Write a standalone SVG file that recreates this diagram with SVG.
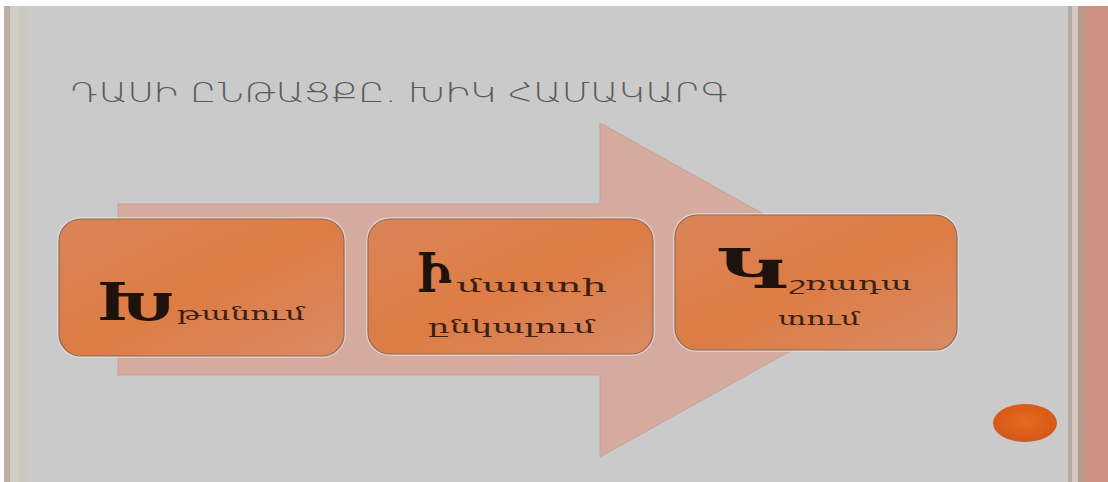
<svg xmlns="http://www.w3.org/2000/svg" width="1108" height="482" viewBox="0 0 1108 482">
<style>
.title{font-family:"DejaVu Sans",sans-serif;font-size:27px;fill:#5a5a5a;font-weight:300}
.big{font-family:"DejaVu Serif",serif;font-weight:bold;fill:#1e120c}
.small{font-family:"DejaVu Serif",serif;font-size:19px;fill:#3a2016}
.box{fill:url(#boxg);stroke:#8a6a5c;stroke-width:1.2}
.halo{fill:none;stroke:#f2e2dc;stroke-width:4;opacity:0.6}
</style>
<defs>
<linearGradient id="boxg" x1="0" y1="0" x2="1" y2="1">
<stop offset="0" stop-color="#da8458"/>
<stop offset="0.5" stop-color="#dd7c44"/>
<stop offset="1" stop-color="#d98a64"/>
</linearGradient>
<radialGradient id="dot" cx="0.5" cy="0.45" r="0.55">
<stop offset="0" stop-color="#e86a1e"/>
<stop offset="0.8" stop-color="#d85c18"/>
<stop offset="1" stop-color="#c85a2a"/>
</radialGradient>
</defs>
<rect x="0" y="0" width="1108" height="482" fill="#cacaca"/>
<rect x="0" y="0" width="1108" height="6" fill="#ffffff"/>
<rect x="0" y="0" width="4" height="482" fill="#ffffff"/>
<rect x="4" y="6" width="6" height="476" fill="#b9b1a8"/>
<rect x="10" y="6" width="8" height="476" fill="#d2cec6"/>
<rect x="18" y="6" width="8" height="476" fill="#c9c9c1"/>
<rect x="1068" y="6" width="4" height="476" fill="#b2aca4"/>
<rect x="1072" y="6" width="6" height="476" fill="#d6c8c0"/>
<rect x="1078" y="6" width="7" height="476" fill="#b8998a"/>
<rect x="1085" y="6" width="23" height="476" fill="#cc9181"/>
<text class="title" x="70" y="102" textLength="659" lengthAdjust="spacingAndGlyphs">ԴԱՍԻ ԸՆԹԱՑՔԸ. ԽԻԿ ՀԱՄԱԿԱՐԳ</text>
<g id="connectors">
<polygon points="118,204 600,204 600,123 900,290 600,457 600,375 118,375" fill="#d5aa9f" stroke="#c8a096" stroke-width="1"/>
</g>
<g id="node1">
<rect x="59" y="219" width="285" height="137" rx="22" class="halo"/>
<rect x="59" y="219" width="285" height="137" rx="22" class="box"/>
<text class="big" x="97" y="320" font-size="52" textLength="78" lengthAdjust="spacingAndGlyphs">Խ</text>
<text class="small" x="177" y="320" textLength="128" lengthAdjust="spacingAndGlyphs">թանում</text>
</g>
<g id="node2">
<rect x="368" y="219" width="285" height="135" rx="22" class="halo"/>
<rect x="368" y="219" width="285" height="135" rx="22" class="box"/>
<text class="big" x="417" y="292" font-size="54" textLength="34" lengthAdjust="spacingAndGlyphs">Ի</text>
<text class="small" x="456" y="292" textLength="151" lengthAdjust="spacingAndGlyphs">մաստի</text>
<text class="small" x="428" y="333" textLength="167" lengthAdjust="spacingAndGlyphs">ընկալում</text>
</g>
<g id="node3">
<rect x="675" y="215" width="282" height="135" rx="22" class="halo"/>
<rect x="675" y="215" width="282" height="135" rx="22" class="box"/>
<text class="big" x="717" y="288" font-size="54" textLength="71" lengthAdjust="spacingAndGlyphs">Կ</text>
<text class="small" x="790" y="290" textLength="122" lengthAdjust="spacingAndGlyphs">շռադա</text>
<text class="small" x="778" y="325" textLength="82" lengthAdjust="spacingAndGlyphs">տում</text>
</g>
<g id="dot-node">
<ellipse cx="1025" cy="423" rx="32" ry="19" fill="url(#dot)"/>
</g>
</svg>
